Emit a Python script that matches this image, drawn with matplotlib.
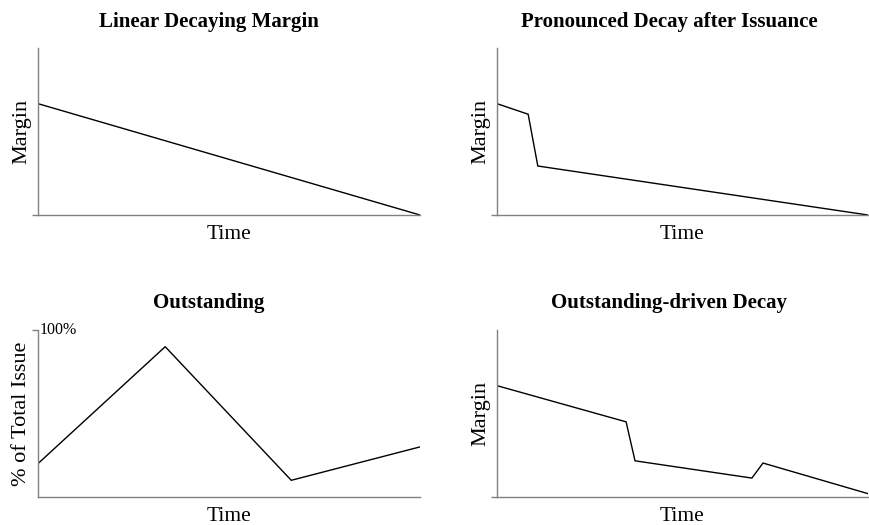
import matplotlib
matplotlib.use("Agg")
import matplotlib.pyplot as plt

plt.rcParams["font.family"] = ["Liberation Serif", "DejaVu Serif"]

# normalised time axis, margin / outstanding values
linear_t = [0.0, 1.0]
linear_m = [1.0, 0.0]

pron_t = [0.0, 0.084, 0.11, 1.0]
pron_m = [1.0, 0.905, 0.44, 0.0]

outst_t = [0.0, 0.333, 0.663, 1.0]
outst_pct = [0.20, 0.90, 0.10, 0.30]

odrv_t = [0.0, 0.348, 0.372, 0.687, 0.717, 1.0]
odrv_m = [1.0, 0.675, 0.325, 0.17, 0.305, 0.03]

titles = ["Linear Decaying Margin", "Pronounced Decay after Issuance",
          "Outstanding", "Outstanding-driven Decay"]

W, H = 869, 525
fig = plt.figure(figsize=(W / 100, H / 100), dpi=100)
boxes = [(38, 215, 382), (497, 215, 371), (38, 497, 382), (497, 497, 371)]
axes = [fig.add_axes([x / W, 1 - y / H, w / W, 167 / H]) for x, y, w in boxes]
title_pos = [(209, 22), (669, 22), (209, 303), (669, 303)]

series = [(linear_t, linear_m), (pron_t, pron_m),
          (outst_t, outst_pct), (odrv_t, odrv_m)]

for i, (ax, (t, v)) in enumerate(zip(axes, series)):
    ax.plot(t, v, color="black", lw=1.0, solid_joinstyle="miter")
    ax.set_xlim(0, 1)
    tx, ty = title_pos[i]
    fig.text(tx / W, 1 - ty / H, titles[i], fontsize=15, fontweight="bold",
             ha="center", va="center")
    ax.set_xlabel("Time", fontsize=15.5, labelpad=7.5)
    for s in ("top", "right"):
        ax.spines[s].set_visible(False)
    for s in ("left", "bottom"):
        ax.spines[s].set_color("#808080")
        ax.spines[s].set_linewidth(1.0)
    ax.set_xticks([])
    ax.tick_params(axis="y", length=4, width=1.0, color="#808080", pad=1)
    if i == 2:
        ax.set_ylim(0, 1)
        ax.set_yticks([1.0])
        ax.set_yticklabels([])
        ax.text(0.005, 1.0, "100%", transform=ax.get_yaxis_transform(),
                fontsize=11.5, va="center", ha="left")
        ax.set_ylabel("% of Total Issue", fontsize=16, labelpad=0)
    else:
        ax.set_ylim(0, 1.5)
        ax.set_yticks([0])
        ax.set_yticklabels([])
        ax.set_ylabel("Margin", fontsize=16, labelpad=0)

fig.savefig("out.png", dpi=100)
